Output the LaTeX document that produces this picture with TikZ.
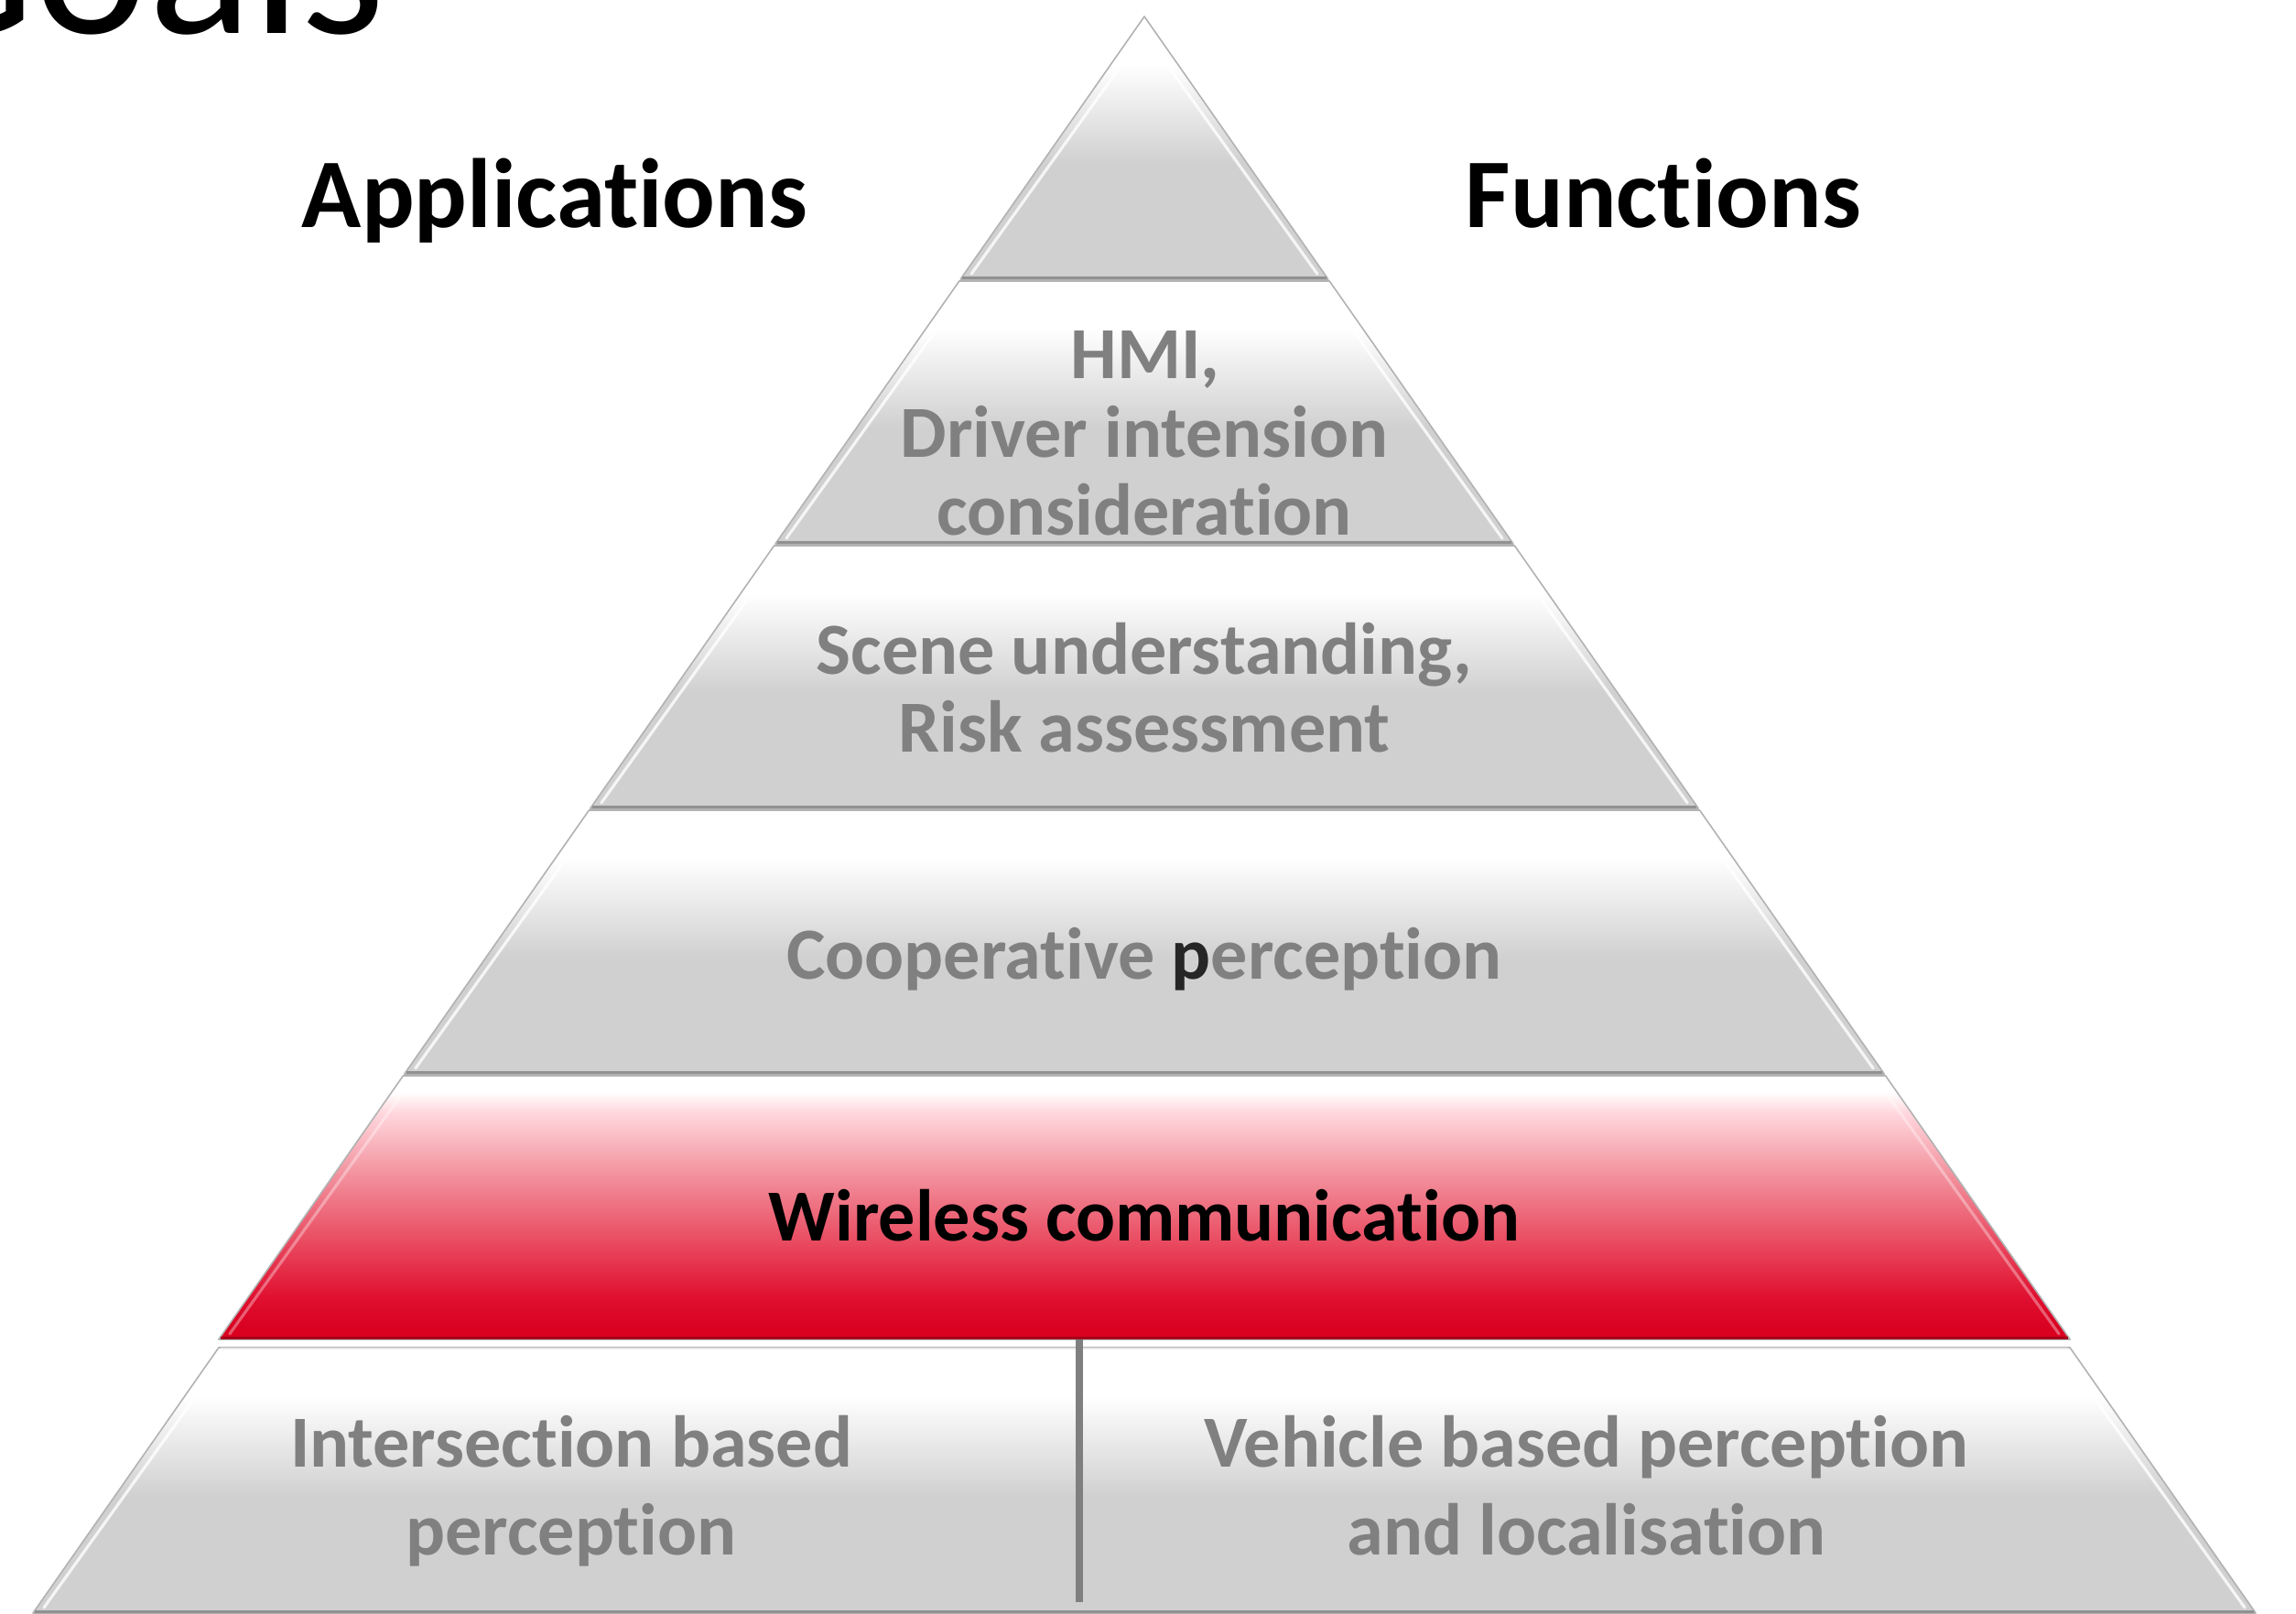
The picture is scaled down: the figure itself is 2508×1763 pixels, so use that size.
\documentclass[tikz,border=0pt]{standalone}
\usepackage{fontspec}
\setmainfont{Carlito}[Ligatures={NoCommon,NoRare,NoContextual},Contextuals=NoAlternate]
\definecolor{lvgray}{RGB}{208,208,208}
\definecolor{txtgray}{RGB}{128,128,128}
\definecolor{pdark}{RGB}{38,38,38}
\definecolor{edgegray}{RGB}{178,178,178}
\definecolor{botgray}{RGB}{145,145,145}
\definecolor{divgray}{RGB}{127,127,127}
\definecolor{topline}{RGB}{232,232,232}
\definecolor{redA}{RGB}{255,215,221}
\definecolor{redB}{RGB}{242,144,156}
\definecolor{redC}{RGB}{234,80,101}
\definecolor{redD}{RGB}{224,16,48}
\definecolor{redE}{RGB}{217,0,32}
\definecolor{rededge}{RGB}{168,0,26}
\pgfdeclareverticalshading{grayband}{100bp}{color(0bp)=(lvgray); color(25bp)=(lvgray); color(47bp)=(lvgray); color(66bp)=(white); color(100bp)=(white)}
\pgfdeclareverticalshading{redband}{100bp}{color(0bp)=(redE); color(27bp)=(redE); color(33bp)=(redD); color(44.5bp)=(redC); color(56bp)=(redB); color(68bp)=(redA); color(72bp)=(white); color(100bp)=(white)}
% #1 ytop, #2 ybot, #3 half width top, #4 half width bottom, #5 shading, #6 bottom line colour, #7 highlight opacity
\newcommand\pyrlevel[7]{%
  \fill[shading=#5] (1250-#3,#1) -- (1250+#3,#1) -- (1250+#4,#2) -- (1250-#4,#2) -- cycle;
  \draw[white, line width=0.9pt, opacity=#7, line cap=round]
    (1250-#3+3,#1+14) -- (1250-#4+12,#2-6)
    (1250+#3-3,#1+14) -- (1250+#4-12,#2-6);
  \draw[edgegray, line width=0.45pt, line join=round] (1250-#3,#1) -- (1250+#3,#1) -- (1250+#4,#2) -- (1250-#4,#2) -- cycle;
  \draw[#6, line width=1pt] (1250-#4+2,#2-1.5) -- (1250+#4-2,#2-1.5);
}
\tikzset{
  heading/.style={font=\fontsize{30.6pt}{37pt}\selectfont\bfseries, anchor=base, inner sep=0pt, text=black},
  lbl/.style={font=\fontsize{22.8pt}{28pt}\selectfont\bfseries, anchor=base, inner sep=0pt, text=txtgray},
  divider/.style={draw=divgray, line width=2.2pt},
}
\begin{document}
\begin{tikzpicture}[x=0.01cm, y=-0.01cm]
\useasboundingbox (0,0) rectangle (2508,1763);
\clip (0,0) rectangle (2508,1763);
\fill[white] (0,0) rectangle (2508,1763);

% title (cut off at the top edge, as in the reference)
\node[font=\fontsize{67pt}{80pt}\selectfont, anchor=base east, inner sep=0pt] (goals) at (422,36) {Goals};

% pyramid levels
\pyrlevel{18}{305}{0}{200.8}{grayband}{botgray}{0.8}
\pyrlevel{307}{594}{202.2}{403.0}{grayband}{botgray}{0.8}
\pyrlevel{596}{883}{404.4}{605.2}{grayband}{botgray}{0.8}
\pyrlevel{885}{1173}{606.6}{808.2}{grayband}{botgray}{0.8}
\pyrlevel{1175}{1463}{809.6}{1011.1}{redband}{rededge}{0.35}
\pyrlevel{1472}{1762}{1011.1}{1214}{grayband}{botgray}{0.8}
\draw[topline, line width=0.6pt] (1250-1009,1473) -- (1250+1009,1473);

% divider in the bottom level
\coordinate (dtop) at (1179,1463);
\coordinate (dbot) at (1179,1750);
\draw[divider] (dtop) -- (dbot);

% headings
\node[heading] (apps) at (606,248) {Applications};
\node[heading] (funcs) at (1817,248) {Functions};

% level texts
\node[lbl] (hmi1) at (1251,413) {HMI,};
\node[lbl] (hmi2) at (1250,499) {Driver intension};
\node[lbl] (hmi3) at (1250,584) {consideration};
\node[lbl] (scene1) at (1250,736) {Scene understanding,};
\node[lbl] (scene2) at (1250,821) {Risk assessment};
\node[lbl] (coop) at (1250,1069) {Cooperative \textcolor{pdark}{p}erception};
\node[lbl, text=black] (wire) at (1250,1355) {Wireless communication};
\node[lbl] (inter1) at (624,1602) {Intersection based};
\node[lbl] (inter2) at (624,1698) {perception};
\node[lbl] (veh1) at (1733,1602) {Vehicle based perception};
\node[lbl] (veh2) at (1733,1698) {and localisation};
\end{tikzpicture}
\end{document}
